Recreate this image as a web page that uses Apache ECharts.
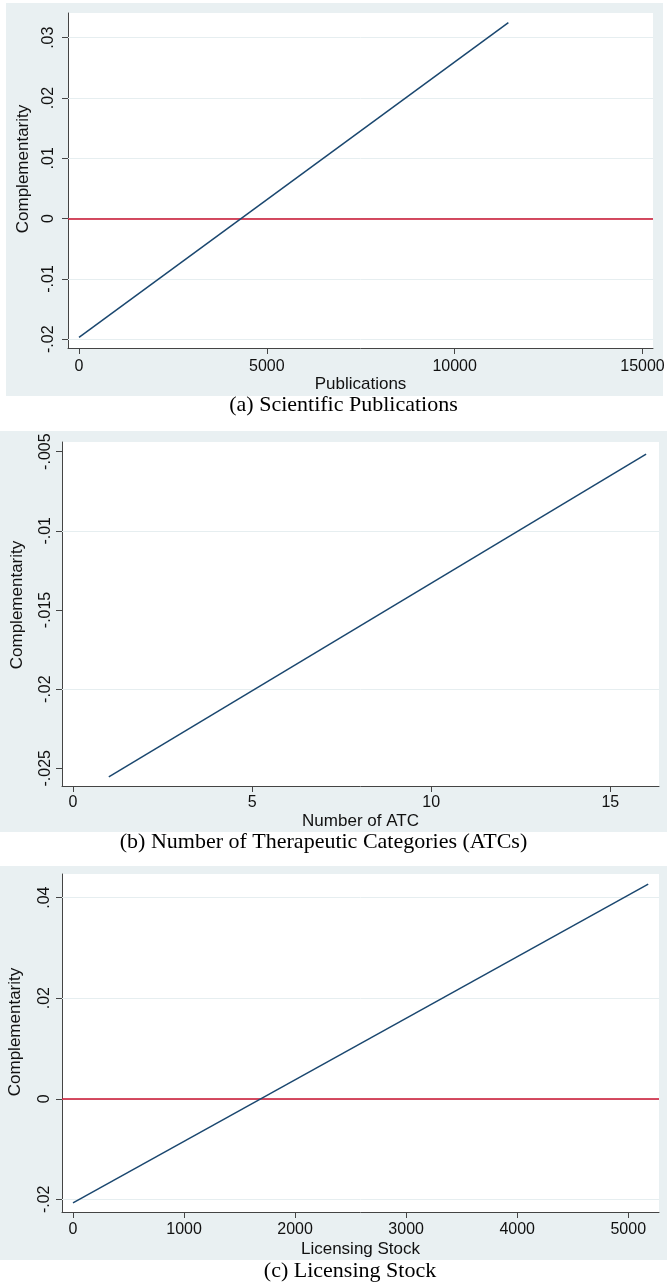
<!DOCTYPE html>
<html><head><meta charset="utf-8">
<script src="https://cdn.jsdelivr.net/npm/echarts@6/dist/echarts.min.js"></script>
<style>html,body{margin:0;padding:0;background:#fff}#c{width:667px;height:1287px}</style>
</head><body><div id="c"></div>
<script>
// ---- Panel (a) Scientific Publications ----
const pubX = [0, 11430];
const pubY = [-0.0197, 0.0325];
const pubXTicks = [0, 5000, 10000, 15000];
const pubYTicks = [-0.02, -0.01, 0, 0.01, 0.02, 0.03];
// ---- Panel (b) Number of ATC ----
const atcX = [1, 16];
const atcY = [-0.02555, -0.00515];
const atcXTicks = [0, 5, 10, 15];
const atcYTicks = [-0.025, -0.02, -0.015, -0.01, -0.005];
// ---- Panel (c) Licensing Stock ----
const licX = [0, 5180];
const licY = [-0.0207, 0.0427];
const licXTicks = [0, 1000, 2000, 3000, 4000, 5000];
const licYTicks = [-0.02, 0, 0.02, 0.04];
// reference line value
const refLine = [0];
const xTitles = ['Publications', 'Number of ATC', 'Licensing Stock'];
const yTitle = 'Complementarity';
const captions = ['(a) Scientific Publications', '(b) Number of Therapeutic Categories (ATCs)', '(c) Licensing Stock'];

const BG = '#e9f0f2', NAVY = '#1a476f', RED = '#c8102e', AX = '#444', GRIDC = '#e6eef0', TXT = '#111';
const SANS = '"Liberation Sans", Arial, sans-serif', SERIF = '"Liberation Serif", "Times New Roman", serif';

function fmtY(v) {
  const s = (+(+v).toFixed(4)).toString();
  return s.replace(/^(-?)0\./, '$1.');
}
function fmtX(v) { return String(+(+v).toFixed(4)); }

const panels = [
  { grid: {left: 68, top: 13, width: 585, height: 335}, x: pubX, y: pubY, xt: pubXTicks, yt: pubYTicks,
    xmin: -293, xmax: 15280, ymin: -0.02145, ymax: 0.0341, ref: refLine, xm: 11, ym: 11, ng: 25 },
  { grid: {left: 62, top: 442, width: 597, height: 344}, x: atcX, y: atcY, xt: atcXTicks, yt: atcYTicks,
    xmin: -0.307, xmax: 16.36, ymin: -0.02612, ymax: -0.00439, ref: [], xm: 9, ym: 8, ng: 27 },
  { grid: {left: 62, top: 874, width: 597, height: 338}, x: licX, y: licY, xt: licXTicks, yt: licYTicks,
    xmin: -99, xmax: 5277, ymin: -0.02252, ymax: 0.0447, ref: refLine, xm: 10, ym: 9, ng: 29 }
];

const grids = [], xAxes = [], yAxes = [], series = [];
panels.forEach((p, i) => {
  grids.push(Object.assign({ show: true, backgroundColor: '#fff', borderWidth: 0, outerBoundsMode: 'none', containLabel: false }, p.grid));
  xAxes.push({
    type: 'value', gridIndex: i, min: p.xmin, max: p.xmax,
    name: xTitles[i], nameLocation: 'middle', nameGap: p.ng,
    nameTextStyle: { fontFamily: SANS, fontSize: 17, color: TXT },
    axisLine: { show: true, onZero: false, lineStyle: { color: AX, width: 1 } },
    axisTick: { show: true, customValues: p.xt, length: 6, lineStyle: { color: AX, width: 1 } },
    axisLabel: { customValues: p.xt, margin: p.xm, fontFamily: SANS, fontSize: 16, color: TXT, formatter: fmtX },
    splitLine: { show: false }
  });
  yAxes.push({
    type: 'value', gridIndex: i, min: p.ymin, max: p.ymax,
    axisLine: { show: true, onZero: false, lineStyle: { color: AX, width: 1 } },
    axisTick: { show: true, customValues: p.yt, length: 6, lineStyle: { color: AX, width: 1 } },
    axisLabel: { customValues: p.yt, rotate: 90, margin: p.ym, fontFamily: SANS, fontSize: 16, color: TXT, formatter: fmtY },
    splitLine: { show: false }
  });
  const pts = p.x.map((xv, k) => [xv, p.y[k]]);
  const ml = p.yt.map(v => ({ yAxis: v, lineStyle: { color: GRIDC, width: 1, type: 'solid' } }))
    .concat(p.ref.map(v => ({ yAxis: v, lineStyle: { color: RED, width: 1.5, type: 'solid' } })));
  series.push({
    type: 'line', xAxisIndex: i, yAxisIndex: i, data: pts,
    symbol: 'none', lineStyle: { color: NAVY, width: 1.5 }, z: 3,
    markLine: { z: 1, silent: true, symbol: 'none', label: { show: false }, animation: false, data: ml }
  });
});

const graphic = [
  { type: 'rect', z: -10, shape: { x: 6, y: 3, width: 657, height: 393 }, style: { fill: BG } },
  { type: 'rect', z: -10, shape: { x: 0, y: 431, width: 667, height: 401 }, style: { fill: BG } },
  { type: 'rect', z: -10, shape: { x: 0, y: 866, width: 667, height: 394 }, style: { fill: BG } }
];
const capPos = [[343.5, 405.7], [323.5, 842.7], [350, 1271]];
captions.forEach((t, i) => graphic.push({
  type: 'text', x: capPos[i][0], y: capPos[i][1], z: 10,
  style: { text: t, fontFamily: SERIF, fontSize: 22, fill: '#000', align: 'center', verticalAlign: 'middle' }
}));
const ytPos = [[23.3, 169], [17.3, 605], [15.7, 1032]];
ytPos.forEach(pp => graphic.push({
  type: 'text', x: pp[0], y: pp[1], rotation: Math.PI / 2, z: 10,
  style: { text: yTitle, fontFamily: SANS, fontSize: 17, fill: TXT, align: 'center', verticalAlign: 'middle' }
}));

const chart = echarts.init(document.getElementById('c'), null, { renderer: 'canvas' });
chart.setOption({
  animation: false,
  backgroundColor: '#fff',
  grid: grids, xAxis: xAxes, yAxis: yAxes, series: series, graphic: graphic
});
</script></body></html>
